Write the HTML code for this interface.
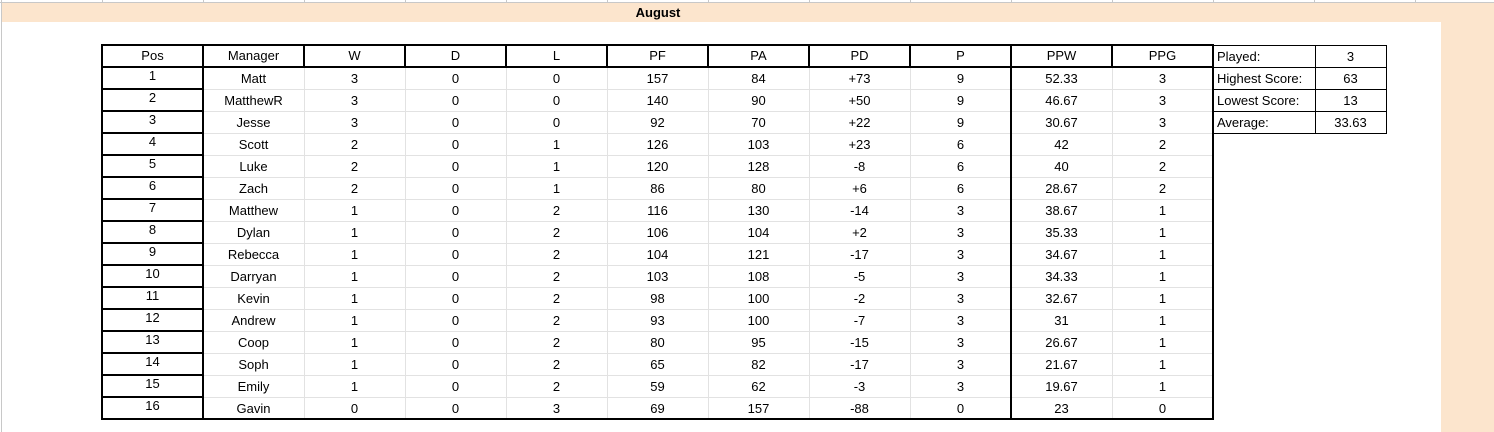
<!DOCTYPE html>
<html><head><meta charset="utf-8"><style>
body{margin:0;width:1494px;height:432px;overflow:hidden;background:#fff;font-family:"Liberation Sans",Arial,sans-serif;font-size:13px;color:#000;position:relative}
.a{position:absolute;box-sizing:border-box}
.t{position:absolute;text-align:center;line-height:22px;white-space:nowrap}
</style></head><body>
<div class="a" style="left:0;top:0;width:1494px;height:3px;background:#fff;border-bottom:1px solid #c8c8c8"></div>
<div class="a" style="left:2px;top:3px;width:1492px;height:19px;background:#fce5cd"></div>
<div class="a" style="left:1441px;top:22px;width:53px;height:410px;background:#fce5cd"></div>
<div class="a" style="left:1px;top:0;width:1px;height:432px;background:#c8c8c8"></div>
<div class="t" style="left:558px;top:2px;width:200px;line-height:21px;font-weight:bold">August</div>
<div id="tbl"></div>
<script>
const headers=["Pos","Manager","W","D","L","PF","PA","PD","P","PPW","PPG"];
const managers=["Matt","MatthewR","Jesse","Scott","Luke","Zach","Matthew","Dylan","Rebecca","Darryan","Kevin","Andrew","Coop","Soph","Emily","Gavin"];
const wins=[3,3,3,2,2,2,1,1,1,1,1,1,1,1,1,0];
const draws=[0,0,0,0,0,0,0,0,0,0,0,0,0,0,0,0];
const losses=[0,0,0,1,1,1,2,2,2,2,2,2,2,2,2,3];
const pf=[157,140,92,126,120,86,116,106,104,103,98,93,80,65,59,69];
const pa=[84,90,70,103,128,80,130,104,121,108,100,100,95,82,62,157];
const pd=["+73","+50","+22","+23","-8","+6","-14","+2","-17","-5","-2","-7","-15","-17","-3","-88"];
const pts=[9,9,9,6,6,6,3,3,3,3,3,3,3,3,3,0];
const ppw=["52.33","46.67","30.67","42","40","28.67","38.67","35.33","34.67","34.33","32.67","31","26.67","21.67","19.67","23"];
const ppg=[3,3,3,2,2,2,1,1,1,1,1,1,1,1,1,0];
const statLabels=["Played:","Highest Score:","Lowest Score:","Average:"];
const statValues=["3","63","13","33.63"];

const root=document.body;
const X0=102,CW=101,Y0=45,RH=22;
function div(cls,style,txt){const d=document.createElement('div');d.className=cls;d.style.cssText=style;if(txt!==undefined)d.textContent=txt;root.appendChild(d);return d;}
// top gridline column marks
for(let i=0;i<15;i++){const g=div('a',`left:${X0+i*CW}px;top:0;width:1px;height:3px;background:#c8c8c8`);

}
// light grid
for(let r=1;r<16;r++){const l=div('a',`left:${X0+CW}px;top:${Y0+RH+r*RH}px;width:${CW*10}px;height:1px;background:#e2e2e2`);

}
for(let c=2;c<11;c++){const l=div('a',`left:${X0+c*CW}px;top:${Y0+RH}px;width:1px;height:${RH*16}px;background:#e2e2e2`);

}
// thick lines
function thick(x,y,w,h){const l=div('a',`left:${x-1}px;top:${y-1}px;width:${w}px;height:${h}px;background:#000`);

}
const W=CW*11,H=RH*17;
thick(X0,Y0,W+2,2);thick(X0,Y0+H,W+2,2);thick(X0,Y0,2,H+2);thick(X0+W,Y0,2,H+2);
thick(X0,Y0+RH,W+2,2);
for(let c=1;c<11;c++)thick(X0+c*CW,Y0,2,RH);
thick(X0+CW,Y0,2,H);thick(X0+9*CW,Y0,2,H);
for(let r=2;r<17;r++)thick(X0,Y0+r*RH,CW,2);
// header
headers.forEach((h,c)=>{const t=div('t',`left:${X0+c*CW}px;top:${Y0}px;width:${CW}px`,h);

});
// rows
managers.forEach((m,i)=>{
 const vals=[i+1,m,wins[i],draws[i],losses[i],pf[i],pa[i],pd[i],pts[i],ppw[i],ppg[i]];
 vals.forEach((v,c)=>{const t=div('t',`left:${X0+c*CW}px;top:${Y0+RH*(i+1)+(c==0?-2:1)}px;width:${CW}px`,String(v));
 
 });
});
// stats box
const SX=1213,SW1=102,SW2=71;
statLabels.forEach((s,i)=>{
 const y=Y0+i*RH;
 const a=div('a',`left:${SX}px;top:${y}px;width:${SW1+1}px;height:${RH+1}px;border:1px solid #000`);
 
 
 const b=div('a',`left:${SX+SW1}px;top:${y}px;width:${SW2+1}px;height:${RH+1}px;border:1px solid #000`);
 
 
 const t=div('t',`left:${SX+4}px;top:${y+1}px;text-align:left`,s);
 
 
 const v=div('t',`left:${SX+SW1}px;top:${y+1}px;width:${SW2}px`,statValues[i]);
 
 
});
</script>
</body></html>
